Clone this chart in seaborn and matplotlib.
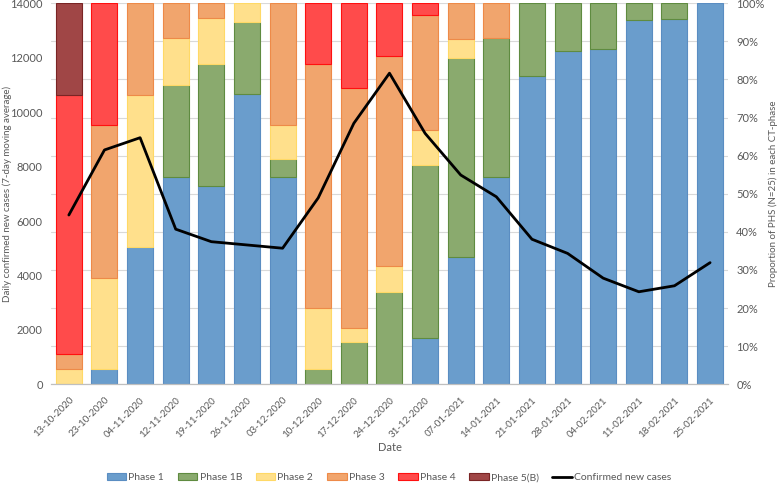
import numpy as np
import pandas as pd
import matplotlib
matplotlib.use("Agg")
import matplotlib.pyplot as plt
import matplotlib.ticker as mticker
from matplotlib.patches import Patch
from matplotlib.lines import Line2D
import seaborn as sns

dates = ["13-10-2020", "23-10-2020", "04-11-2020", "12-11-2020", "19-11-2020",
         "26-11-2020", "03-12-2020", "10-12-2020", "17-12-2020", "24-12-2020",
         "31-12-2020", "07-01-2021", "14-01-2021", "21-01-2021", "28-01-2021",
         "04-02-2021", "11-02-2021", "18-02-2021", "25-02-2021"]

# share of PHS in each CT-phase (%)
phase1 = [0, 4, 36, 54.5, 52, 76.2, 54.5, 0, 0, 0, 12.1, 33.3, 54.5, 81.0, 87.5, 88.0, 95.5, 95.8, 100]
phase1b = [0, 0, 0, 24.1, 32, 19.0, 4.5, 4, 11.1, 24.1, 45.5, 52.4, 36.4, 19.0, 12.5, 12.0, 4.5, 4.2, 0]
phase2 = [4, 24, 40, 12.2, 12, 4.8, 9.1, 16, 3.7, 6.9, 9.1, 4.8, 0, 0, 0, 0, 0, 0, 0]
phase3 = [4, 40, 24, 9.2, 4, 0, 31.9, 64, 63.0, 55.2, 30.3, 9.5, 9.1, 0, 0, 0, 0, 0, 0]
phase4 = [68, 32, 0, 0, 0, 0, 0, 16, 22.2, 13.8, 3.0, 0, 0, 0, 0, 0, 0, 0, 0]
phase5b = [24, 0, 0, 0, 0, 0, 0, 0, 0, 0, 0, 0, 0, 0, 0, 0, 0, 0, 0]

# confirmed new cases, 7-day moving average
cases = [6220, 8610, 9060, 5700, 5240, 5120, 5000, 6850, 9590, 11430,
         9220, 7690, 6890, 5330, 4810, 3900, 3400, 3620, 4470]

phases = ["Phase 1", "Phase 1B", "Phase 2", "Phase 3", "Phase 4", "Phase 5(B)"]
values = [phase1, phase1b, phase2, phase3, phase4, phase5b]
faces = ["#6A9DCC", "#8AAA6E", "#FFE08C", "#F1A56D", "#FF4B4B", "#A04646"]
edges = ["#5A8DC2", "#5F8B40", "#FFD966", "#EE8A48", "#FF1010", "#7A2424"]

grey = "#595959"
sns.set_style("white")
plt.rcParams["font.family"] = ["Lato", "DejaVu Sans"]

fig = plt.figure(figsize=(7.78, 4.83), dpi=100)
ax = fig.add_axes([0.0656, 0.2043, 0.870, 0.789])

bottom = np.zeros(len(dates))
for name, vals, fc, ec in zip(phases, values, faces, edges):
    df = pd.DataFrame({"Date": dates, "share": vals})
    n_before = len(ax.patches)
    sns.barplot(data=df, x="Date", y="share", order=dates, ax=ax, color=fc,
                saturation=1, width=0.73, errorbar=None, bottom=bottom,
                edgecolor=ec, linewidth=0.8)
    for p in ax.patches[n_before:]:
        if p.get_height() == 0:
            p.set_visible(False)
    bottom = bottom + np.array(vals)

ax_l = ax.twinx()
sns.lineplot(x=np.arange(len(dates)), y=cases, ax=ax_l, color="black", linewidth=2.0)

# proportion axis on the right, cases axis on the left
ax.set_ylim(0, 100)
ax.set_xlim(-0.5, len(dates) - 0.5)
ax.yaxis.set_major_locator(mticker.MultipleLocator(10))
ax.yaxis.set_major_formatter(mticker.PercentFormatter(decimals=0))
ax.yaxis.tick_right()
ax.yaxis.set_label_position("right")
ax.set_ylabel("Proportion of PHS (N=25) in each CT-phase", color=grey, fontsize=7, labelpad=3)
ax.grid(axis="y", color="#D9D9D9", linewidth=0.8)
ax.set_axisbelow(True)

ax_l.set_ylim(0, 14000)
ax_l.yaxis.set_major_locator(mticker.MultipleLocator(2000))
ax_l.yaxis.tick_left()
ax_l.yaxis.set_label_position("left")
ax_l.set_ylabel("Daily confirmed new cases (7-day moving average)", color=grey, fontsize=7)
ax_l.yaxis.set_label_coords(-0.058, 0.5)

for a in (ax, ax_l):
    for s in ["top", "left", "right"]:
        a.spines[s].set_visible(False)
    a.spines["bottom"].set_color("#BFBFBF")
    a.tick_params(axis="y", length=0, labelsize=8, labelcolor=grey, pad=6)

ax.set_xticks(np.arange(len(dates)))
ax.set_xticklabels(dates, rotation=45, ha="right", rotation_mode="anchor")
ax.set_xticks(np.arange(len(dates) + 1) - 0.5, minor=True)
ax.tick_params(axis="x", which="major", length=0, labelsize=7, labelcolor=grey, pad=8)
ax.tick_params(axis="x", which="minor", length=4, color="#BFBFBF", width=0.8)
ax.set_xlabel("Date", color=grey, fontsize=8, labelpad=2)

handles = [Patch(facecolor=fc, edgecolor=ec, linewidth=0.8, label=name)
           for name, fc, ec in zip(phases, faces, edges)]
handles.append(Line2D([0], [0], color="black", linewidth=2.0, label="Confirmed new cases"))
fig.legend(handles=handles, loc="center", bbox_to_anchor=(0.5, 0.011), ncol=7,
           frameon=False, fontsize=7.5, labelcolor=grey, handlelength=1.9,
           handleheight=0.55, handletextpad=0.2, columnspacing=1.3)

fig.savefig("out.png", dpi=100)
